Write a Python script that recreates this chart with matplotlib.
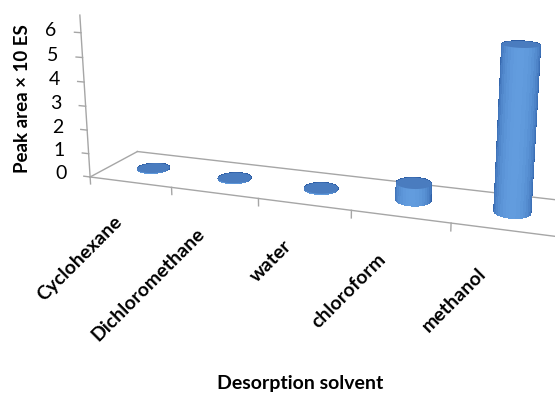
import numpy as np
import matplotlib
matplotlib.use('Agg')
import matplotlib.pyplot as plt
from matplotlib.transforms import IdentityTransform
from mpl_toolkits.mplot3d import proj3d
from mpl_toolkits.mplot3d.art3d import Poly3DCollection

solvents = ['Cyclohexane', 'Dichloromethane', 'water', 'chloroform', 'methanol']
peak_area = [0.02, 0.02, 0.03, 0.68, 6.3]
value_ticks = [0, 1, 2, 3, 4, 5, 6]

plt.rcParams['font.family'] = ['Lato', 'DejaVu Sans']

grey = '#a6a6a6'
dark = np.array([40, 88, 160]) / 255
light = np.array([98, 156, 222]) / 255
cap_color = '#4a7cbf'
AZIM = -70

fig = plt.figure(figsize=(5.55, 3.95), dpi=100)
ax = fig.add_axes([0.069, 0.216, 1.0, 1.0], projection='3d', computed_zorder=False)
ax.set_proj_type('persp', focal_length=0.45)
ax.view_init(elev=14.5, azim=AZIM)
ax.set_xlim(0, 5)
ax.set_ylim(0, 1)
ax.set_zlim(0, 6.7)
ax.set_box_aspect((5, 1.0, 1.78), zoom=1.29)
ax.set_axis_off()

# floor outline, category ticks and value axis
line_kw = dict(color=grey, lw=1, zorder=1, clip_on=False)
ax.plot([0, 5], [0, 0], [0, 0], **line_kw)
ax.plot([0, 5], [1, 1], [0, 0], **line_kw)
ax.plot([0, 0], [0, 1], [0, 0], **line_kw)
ax.plot([5, 5], [0, 1], [0, 0], **line_kw)
ax.plot([0, 0], [0, 0], [0, 6.7], **line_kw)
for i in range(len(solvents) + 1):
    ax.plot([i, i], [0, 0], [0, -0.3], **line_kw)
for v in value_ticks:
    ax.plot([-0.08, 0], [0, 0], [v, v], **line_kw)

# cylinders: shaded side wall plus flat top
r = 0.18
theta = np.linspace(0, 2 * np.pi, 73)
az = np.deg2rad(AZIM)
for i, h in enumerate(peak_area):
    cx, cy = i + 0.5, 0.5
    T, Z = np.meshgrid(theta, np.linspace(0, h, 12))
    X = cx + r * np.cos(T)
    Y = cy + r * np.sin(T)
    shade = np.clip(np.cos(T - az + 0.3), 0, 1) ** 0.7
    fc = dark[None, None, :] + (light - dark)[None, None, :] * shade[..., None]
    body = ax.plot_surface(X, Y, Z, facecolors=fc, linewidth=0, antialiased=False,
                           shade=False, zorder=2 + 2 * i)
    body.set_clip_on(False)
    cap = list(zip(cx + r * np.cos(theta), cy + r * np.sin(theta), np.full_like(theta, h)))
    top = Poly3DCollection([cap], facecolor=cap_color, edgecolor='none', zorder=3 + 2 * i)
    ax.add_collection3d(top)
    top.set_clip_on(False)

fig.canvas.draw()


def to_pixels(x, y, z):
    x2, y2, _ = proj3d.proj_transform(x, y, z, ax.get_proj())
    return ax.transData.transform((x2, y2))


# value labels beside the vertical axis
for v in value_ticks:
    px, py = to_pixels(-0.3, 0, v)
    fig.text(px, py, str(v), transform=IdentityTransform(), ha='right', va='center',
             fontsize=14)

# slanted category labels hang below the front edge
for i, name in enumerate(solvents):
    px, py = to_pixels(i + 0.27, 0, -1.45)
    fig.text(px, py, name, transform=IdentityTransform(), ha='right', va='top',
             rotation=45, rotation_mode='anchor', fontsize=14, fontweight='bold')

fig.text(0.04, 0.75, 'Peak area \u00d7 10 ES', rotation=90, ha='center', va='center',
         fontsize=13.5, fontweight='bold')
fig.text(0.54, 0.03, 'Desorption solvent', ha='center', va='center',
         fontsize=14, fontweight='bold')

fig.savefig('out.png', dpi=100)
